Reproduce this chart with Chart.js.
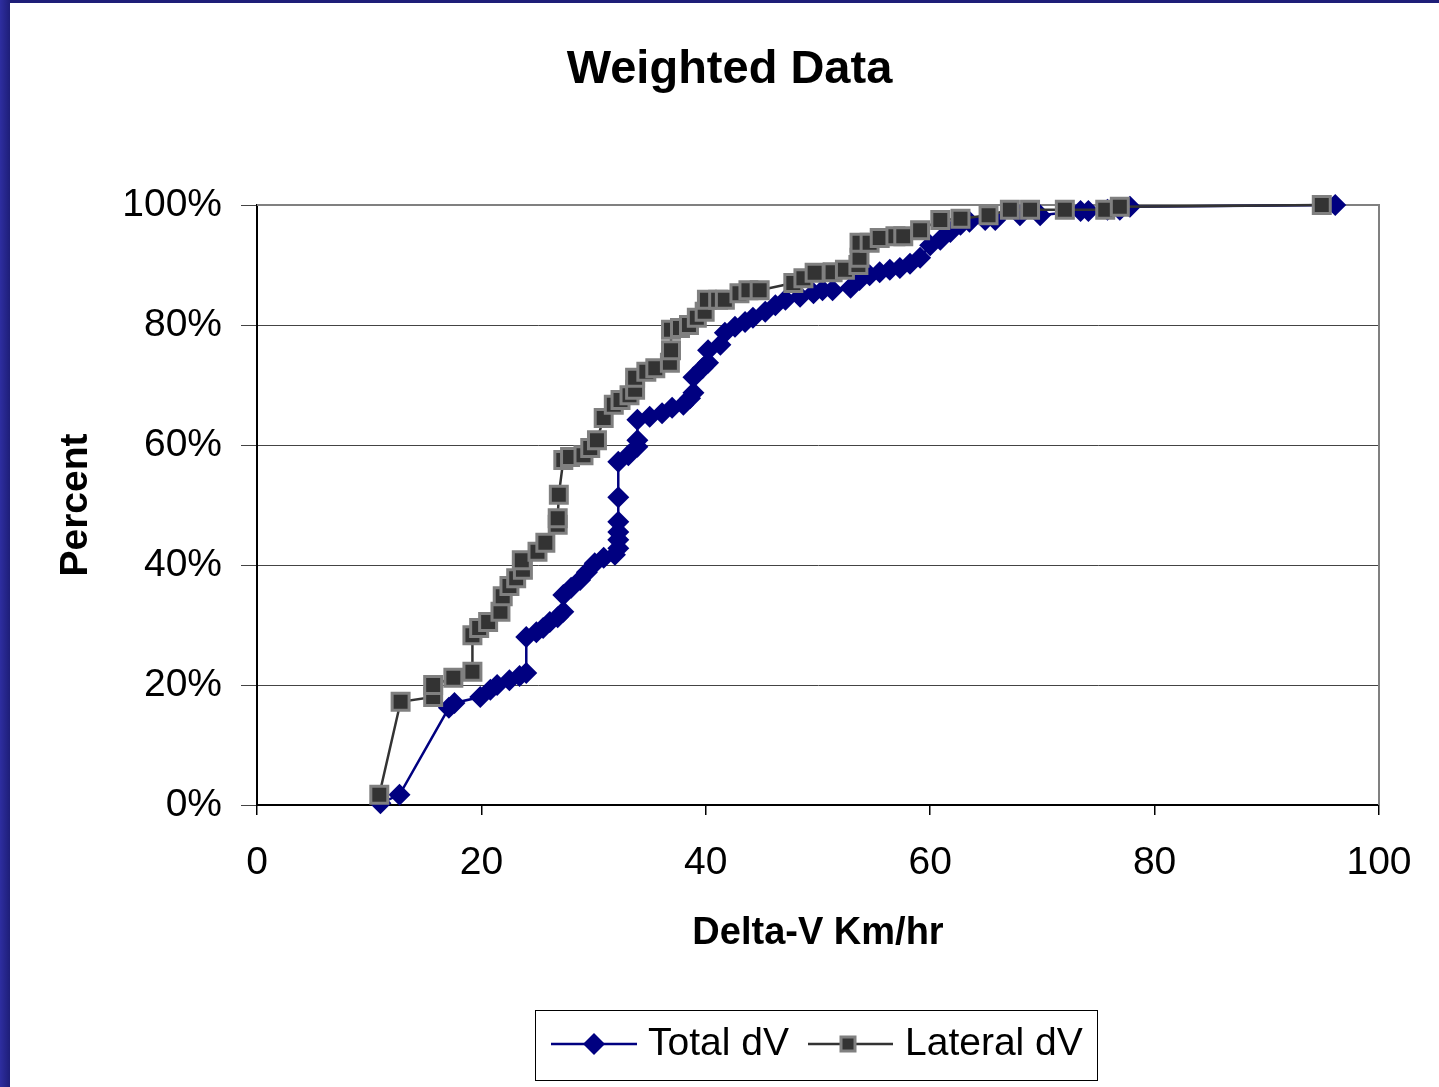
<!DOCTYPE html>
<html>
<head>
<meta charset="utf-8">
<title>Weighted Data</title>
<script src="https://cdn.jsdelivr.net/npm/chart.js@4.4.1/dist/chart.umd.min.js"></script>
<style>
  html, body { margin: 0; padding: 0; }
  body {
    width: 1439px; height: 1087px; overflow: hidden;
    background: linear-gradient(90deg, #2e2ea0 0px, #1e1e78 10px);
  }
  #wrap { position: absolute; left: 10px; top: 3px; width: 1429px; height: 1084px; background: #fff; }
</style>
</head>
<body>
<div id="wrap"><canvas id="grafico" width="1429" height="1084"></canvas></div>
<script>
// Valores (x = Delta-V km/h, y = percentual acumulado)
const totalX = [11.0, 12.7, 17.1, 17.6, 19.9, 20.8, 21.4, 22.5, 23.4, 24.0, 24.0, 24.9, 25.5, 26.1, 26.8, 27.3, 27.3, 28.0, 28.8, 29.4, 30.1, 30.9, 31.9, 32.2, 32.2, 32.2, 32.2, 32.2, 32.2, 33.1, 33.9, 33.9, 33.9, 35.0, 36.1, 37.0, 38.0, 38.6, 38.9, 38.9, 39.7, 40.2, 40.2, 41.3, 41.7, 42.6, 43.5, 44.2, 45.3, 46.2, 47.1, 48.4, 49.6, 50.4, 51.3, 52.9, 53.7, 54.6, 55.5, 56.4, 57.3, 58.2, 59.1, 60.0, 60.9, 61.8, 62.7, 63.5, 64.9, 65.8, 68.0, 69.8, 73.4, 74.1, 75.8, 76.9, 77.8, 96.1];
const totalY = [0.3, 1.7, 16.2, 17.0, 18.0, 19.2, 20.0, 20.8, 21.5, 22.0, 28.0, 28.8, 29.5, 30.5, 31.3, 32.2, 35.0, 36.2, 37.5, 38.8, 40.3, 41.2, 41.7, 42.8, 44.2, 45.5, 47.2, 51.3, 57.2, 58.3, 59.7, 60.8, 64.2, 64.7, 65.3, 66.2, 66.7, 67.8, 68.7, 71.3, 72.8, 73.7, 75.8, 76.7, 78.7, 79.7, 80.5, 81.2, 82.2, 83.3, 84.2, 84.7, 85.3, 85.8, 85.8, 86.2, 87.5, 88.3, 88.8, 89.2, 89.5, 90.2, 91.2, 93.3, 94.2, 95.5, 96.7, 97.2, 97.5, 97.5, 98.3, 98.3, 99.0, 99.0, 99.2, 99.2, 99.7, 100];

const lateralX = [10.9, 12.8, 15.7, 15.7, 17.5, 19.2, 19.2, 19.8, 20.6, 21.7, 21.9, 22.5, 23.1, 23.7, 23.6, 25.0, 25.7, 26.8, 26.8, 26.9, 27.3, 27.9, 29.1, 29.7, 30.3, 30.9, 31.8, 32.4, 33.2, 33.7, 33.7, 34.7, 35.5, 36.8, 36.9, 36.9, 37.7, 38.5, 39.2, 39.9, 40.1, 41.1, 41.7, 43.0, 43.8, 44.8, 47.8, 48.7, 49.7, 51.3, 52.4, 53.6, 53.7, 53.7, 54.6, 55.5, 56.9, 57.6, 59.1, 60.9, 62.7, 65.2, 67.1, 68.9, 72.0, 75.6, 76.9, 94.9];
const lateralY = [1.7, 17.2, 18.0, 20.0, 21.2, 22.2, 28.3, 29.5, 30.5, 32.2, 34.8, 36.5, 37.8, 39.2, 40.8, 42.2, 43.7, 46.7, 47.8, 51.7, 57.5, 58.0, 58.3, 59.5, 60.8, 64.5, 66.7, 67.5, 68.3, 69.2, 71.2, 72.2, 72.8, 73.7, 75.8, 79.2, 79.5, 80.0, 81.2, 82.2, 84.2, 84.2, 84.2, 85.3, 85.8, 85.8, 87.0, 87.8, 88.7, 88.8, 89.2, 90.0, 91.2, 93.7, 93.7, 94.5, 94.8, 94.8, 95.8, 97.5, 97.7, 98.3, 99.2, 99.2, 99.2, 99.2, 99.7, 100];

const nomesSeries = ['Total dV', 'Lateral dV'];
const ticksY = [0, 20, 40, 60, 80, 100];
const ticksX = [0, 20, 40, 60, 80, 100];

const corTotal = '#000080';
const corLateral = '#333333';
const bordaLateral = '#808080';

Chart.defaults.font.family = '"Liberation Sans", Arial, sans-serif';
Chart.defaults.color = '#000';

// Borda cinza da área de plotagem e legenda desenhada à mão
const pluginMoldura = {
  id: 'moldura',
  beforeDatasetsDraw(chart) {
    const { ctx, chartArea: a } = chart;
    ctx.save();
    ctx.strokeStyle = '#808080';
    ctx.lineWidth = 2;
    ctx.beginPath();
    ctx.moveTo(a.left, a.top);
    ctx.lineTo(a.right, a.top);
    ctx.lineTo(a.right, a.bottom);
    ctx.stroke();
    ctx.restore();
  },
  afterDraw(chart) {
    const ctx = chart.ctx;
    ctx.save();
    // caixa da legenda
    ctx.strokeStyle = '#000';
    ctx.lineWidth = 1;
    ctx.strokeRect(525.5, 1007.5, 562, 70);
    const y = 1041;
    // Total dV
    ctx.strokeStyle = corTotal;
    ctx.lineWidth = 2.5;
    ctx.beginPath(); ctx.moveTo(541, y); ctx.lineTo(627, y); ctx.stroke();
    ctx.fillStyle = corTotal;
    ctx.beginPath();
    ctx.moveTo(584, y - 11); ctx.lineTo(595, y); ctx.lineTo(584, y + 11); ctx.lineTo(573, y);
    ctx.closePath(); ctx.fill();
    // Lateral dV
    ctx.strokeStyle = corLateral;
    ctx.beginPath(); ctx.moveTo(798, y); ctx.lineTo(883, y); ctx.stroke();
    ctx.fillStyle = corLateral;
    ctx.fillRect(831, y - 7, 14, 14);
    ctx.strokeStyle = bordaLateral;
    ctx.lineWidth = 3;
    ctx.strokeRect(831, y - 7, 14, 14);
    // textos
    ctx.fillStyle = '#000';
    ctx.font = '39px "Liberation Sans", Arial, sans-serif';
    ctx.textBaseline = 'middle';
    ctx.fillText(nomesSeries[0], 638, y);
    ctx.fillText(nomesSeries[1], 895, y);
    ctx.restore();
  }
};

const ctxGrafico = document.getElementById('grafico');
new Chart(ctxGrafico, {
  type: 'line',
  data: {
    datasets: [
      {
        label: nomesSeries[0],
        data: totalX.map((x, i) => ({ x, y: totalY[i] })),
        borderColor: corTotal,
        backgroundColor: corTotal,
        borderWidth: 2.5,
        pointStyle: 'rectRot',
        pointRadius: 11,
        pointBorderWidth: 0,
        pointBackgroundColor: corTotal,
        tension: 0,
        clip: false,
        order: 1
      },
      {
        label: nomesSeries[1],
        data: lateralX.map((x, i) => ({ x, y: lateralY[i] })),
        borderColor: corLateral,
        backgroundColor: corLateral,
        borderWidth: 2.5,
        pointStyle: 'rect',
        pointRadius: 12,
        pointBorderWidth: 3,
        pointBorderColor: bordaLateral,
        pointBackgroundColor: corLateral,
        tension: 0,
        clip: false,
        order: 0
      }
    ]
  },
  options: {
    responsive: false,
    animation: false,
    layout: { padding: { top: 0, right: 0, bottom: 0, left: 10 } },
    plugins: {
      legend: { display: false },
      tooltip: { enabled: false },
      title: {
        display: true,
        text: 'Weighted Data',
        color: '#000',
        font: { size: 47, weight: 'bold' },
        padding: { top: 39, bottom: 106.6 }
      }
    },
    scales: {
      x: {
        type: 'linear',
        min: 0,
        max: 100,
        afterBuildTicks: s => { s.ticks = ticksX.map(v => ({ value: v })); },
        afterFit: s => { s.height = 282; },
        ticks: { font: { size: 39 }, color: '#000', padding: 25 },
        grid: { drawOnChartArea: false, drawTicks: true, tickLength: 10, color: '#000', lineWidth: 1.5 },
        border: { color: '#000', width: 2 },
        title: {
          display: true,
          text: 'Delta-V Km/hr',
          color: '#000',
          font: { size: 38, weight: 'bold' },
          padding: { top: 0, bottom: 131 }
        }
      },
      y: {
        min: 0,
        max: 100,
        afterBuildTicks: s => { s.ticks = ticksY.map(v => ({ value: v })); },
        afterFit: s => { s.width = 237; },
        ticks: { font: { size: 39 }, color: '#000', padding: 19, callback: v => v + '%' },
        grid: { color: '#444', lineWidth: 1, drawTicks: true, tickLength: 16 },
        border: { color: '#000', width: 2 },
        title: {
          display: true,
          text: 'Percent',
          color: '#000',
          font: { size: 39, weight: 'bold' },
          padding: { top: 33, bottom: 0 }
        }
      },
      // eixo vazio à direita, só para reservar a margem
      margemDireita: {
        type: 'linear',
        position: 'right',
        min: 0,
        max: 100,
        afterFit: s => { s.width = 60; },
        ticks: { display: false },
        grid: { display: false },
        border: { display: false }
      }
    }
  },
  plugins: [pluginMoldura]
});
</script>
</body>
</html>
